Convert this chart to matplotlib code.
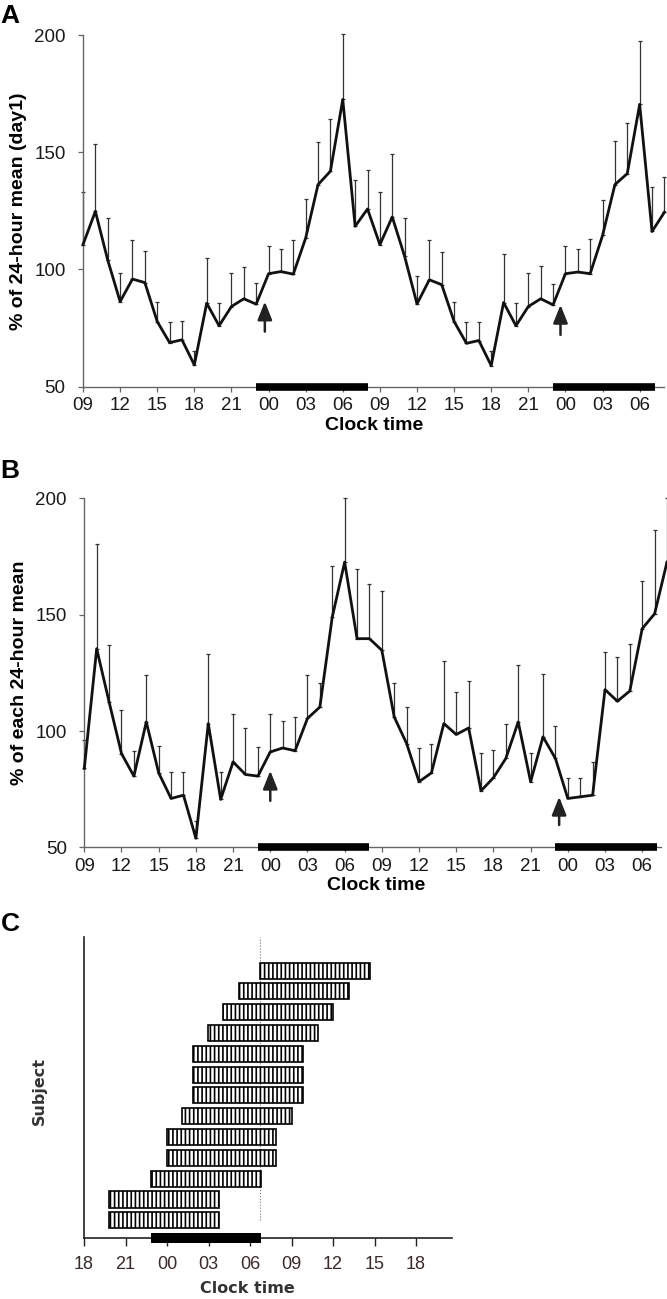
import numpy as np
import matplotlib
matplotlib.use("Agg")
import matplotlib.pyplot as plt

plt.rcParams['font.family'] = ['Liberation Sans', 'DejaVu Sans']
plt.rcParams['hatch.linewidth'] = 1.2

# ---------------- data ----------------
hours = np.arange(48)  # hours since 09:00 on day 1
tick_hours = np.arange(0, 46, 3)
tick_labels = ['09', '12', '15', '18', '21', '00', '03', '06',
               '09', '12', '15', '18', '21', '00', '03', '06']

mean_a = [110.6, 124.8, 104.0, 86.3, 95.9, 94.4, 77.8, 68.8, 70.0, 59.3, 85.6, 76.0,
          84.2, 87.5, 85.2, 98.2, 99.1, 98.0, 113.4, 136.2, 141.9, 172.5, 118.4, 125.8,
          110.6, 122.4, 105.6, 85.3, 95.6, 93.5, 77.8, 68.5, 69.7, 59.0, 85.9, 76.0,
          84.2, 87.5, 84.9, 98.2, 98.9, 98.2, 114.5, 136.2, 140.9, 170.4, 116.2, 124.4]
err_a = [22.4, 28.9, 18.0, 12.2, 16.8, 13.3, 8.5, 8.7, 8.0, 6.1, 19.4, 9.6,
         14.3, 13.5, 9.0, 11.6, 9.7, 14.4, 16.6, 18.1, 22.1, 27.8, 19.6, 16.5,
         22.3, 26.9, 16.4, 12.0, 16.8, 13.9, 8.2, 9.3, 8.1, 6.4, 20.7, 9.9,
         14.3, 13.8, 9.0, 11.6, 9.9, 14.9, 15.3, 18.4, 21.7, 27.0, 18.8, 15.1]

mean_b = [83.9, 135.4, 112.5, 90.3, 80.6, 103.9, 82.0, 71.0, 72.4, 53.9, 103.2, 70.6,
          86.7, 81.3, 80.6, 91.0, 92.7, 91.5, 105.4, 110.3, 149.0, 172.6, 139.7, 139.7,
          134.7, 106.0, 94.6, 78.2, 82.0, 103.2, 98.5, 101.3, 74.3, 79.9, 88.2, 103.9,
          78.2, 97.5, 88.2, 71.0, 71.7, 72.4, 117.8, 112.8, 117.2, 144.0, 150.4, 172.6]
err_b = [12.1, 44.8, 24.3, 18.9, 10.7, 20.3, 11.6, 11.2, 9.8, 7.5, 29.8, 11.6,
         20.5, 20.2, 12.6, 16.2, 11.6, 14.5, 18.8, 10.3, 21.9, 27.4, 30.0, 23.3,
         25.3, 14.6, 15.7, 14.3, 12.2, 26.8, 18.3, 20.1, 16.3, 11.9, 14.6, 24.3,
         12.4, 27.2, 14.0, 9.0, 7.9, 14.3, 16.2, 19.0, 20.1, 20.4, 36.1, 27.4]

# night bars (hours since 09:00 day 1) and arrow markers
night_a = [(14.0, 23.0), (38.0, 46.2)]
night_b = [(14.0, 23.0), (38.0, 46.2)]
arrows_a = [(14.7, 73.5, 86.3), (38.6, 72.1, 84.9)]
arrows_b = [(15.0, 70.0, 82.9), (38.3, 59.6, 71.7)]

# panel C: episode start (hours after 18:00), bottom subject first
c_start = [1.83, 1.83, 4.82, 5.97, 5.97, 7.11, 7.86, 7.86, 7.86, 8.99, 10.07, 11.23, 12.72]
c_duration = [7.94] * 13
c_night = (4.84, 12.78)
c_dotted = 12.75
c_ticks = np.arange(0, 25, 3)
c_tick_labels = ['18', '21', '00', '03', '06', '09', '12', '15', '18']

# ---------------- figure ----------------
W, H = 667, 1299
fig = plt.figure(figsize=(W / 100, H / 100), dpi=100)


def px_axes(left, top, right, bottom):
    return fig.add_axes([left / W, 1 - bottom / H, (right - left) / W, (bottom - top) / H])


def line_panel(ax, mean, err, night, arrows, ylabel, spine_end):
    mean = np.array(mean)
    err = np.array(err)
    ax.errorbar(hours, mean, yerr=[np.zeros_like(err), err], fmt='none',
                ecolor='#333333', elinewidth=0.9, capsize=1.6, capthick=0.9,
                clip_on=False, zorder=2)
    ax.plot(hours, mean, color='#111111', lw=2.0, zorder=3, clip_on=False)
    ax.set_xlim(0, 47)
    ax.set_ylim(50, 200)
    ax.set_yticks([50, 100, 150, 200])
    ax.set_xticks(tick_hours)
    ax.set_xticklabels(tick_labels)
    for s in ['top', 'right']:
        ax.spines[s].set_visible(False)
    for s in ['left', 'bottom']:
        ax.spines[s].set_color('#666666')
        ax.spines[s].set_linewidth(1.0)
    ax.spines['bottom'].set_bounds(0, spine_end)
    ax.tick_params(axis='both', direction='out', length=3.5, width=0.9,
                   color='#666666', labelsize=13.5, labelcolor='#1a1a1a')
    ax.tick_params(axis='y', pad=9)
    ax.tick_params(axis='x', pad=4)
    for a, b in night:
        ax.plot([a, b], [50, 50], color='black', lw=5.5, solid_capstyle='butt',
                clip_on=False, zorder=4)
    for x, y0, y1 in arrows:
        ax.annotate('', xy=(x, y1), xytext=(x, y0),
                    arrowprops=dict(arrowstyle='-|>,head_length=0.55,head_width=0.22',
                                    color='#222222', lw=1.8, shrinkA=0, shrinkB=0,
                                    mutation_scale=20))
    ax.set_xlabel('Clock time', fontsize=14, fontweight='bold', labelpad=2)
    ax.set_ylabel(ylabel, fontsize=14, fontweight='bold')
    ax.yaxis.set_label_coords(-0.097, 0.5)


axA = px_axes(83, 35, 664.4, 386.7)
line_panel(axA, mean_a, err_a, night_a, arrows_a, '% of 24-hour mean (day1)', 47)

axB = px_axes(84.3, 498.4, 667, 847.3)
line_panel(axB, mean_b, err_b, night_b, arrows_b, '% of each 24-hour mean', 46.5)

# ---------------- panel C ----------------
axC = px_axes(84, 936.7, 451.7, 1238.3)
rows = np.arange(1, 14)
axC.barh(rows, c_duration, left=c_start, height=0.77, color='white',
         edgecolor='black', linewidth=1.2, hatch='||||', zorder=2)
axC.set_xlim(0, 26.58)
axC.set_ylim(0.135, 14.63)
axC.plot([c_dotted, c_dotted], [1, 14.63], color='#777777', lw=0.8, ls=':', zorder=1)
axC.plot(list(c_night), [0.135, 0.135], color='black', lw=7.2, solid_capstyle='butt',
         clip_on=False, zorder=4)
axC.set_xticks(c_ticks)
axC.set_xticklabels(c_tick_labels)
axC.set_yticks([])
for s in ['top', 'right']:
    axC.spines[s].set_visible(False)
for s in ['left', 'bottom']:
    axC.spines[s].set_color('#222222')
    axC.spines[s].set_linewidth(1.2)
axC.tick_params(axis='x', direction='out', length=6, width=1.0, color='#222222',
                labelsize=13, labelcolor='#3a2a2a', pad=7)
axC.set_xlabel('Clock time', fontsize=11.5, fontweight='bold', family='DejaVu Sans',
               color='#333333')
axC.xaxis.set_label_coords(0.443, -0.142)
axC.set_ylabel('Subject', fontsize=11.5, fontweight='bold', family='DejaVu Sans',
               color='#333333')
axC.yaxis.set_label_coords(-0.10, 0.49)

# panel letters
fig.text(0.0, 1 - 4 / H, 'A', fontsize=19, fontweight='bold', va='top', ha='left')
fig.text(0.0, 1 - 459 / H, 'B', fontsize=19, fontweight='bold', va='top', ha='left')
fig.text(0.002, 1 - 912 / H, 'C', fontsize=19, fontweight='bold', va='top', ha='left')

fig.savefig('out.png', dpi=100)
